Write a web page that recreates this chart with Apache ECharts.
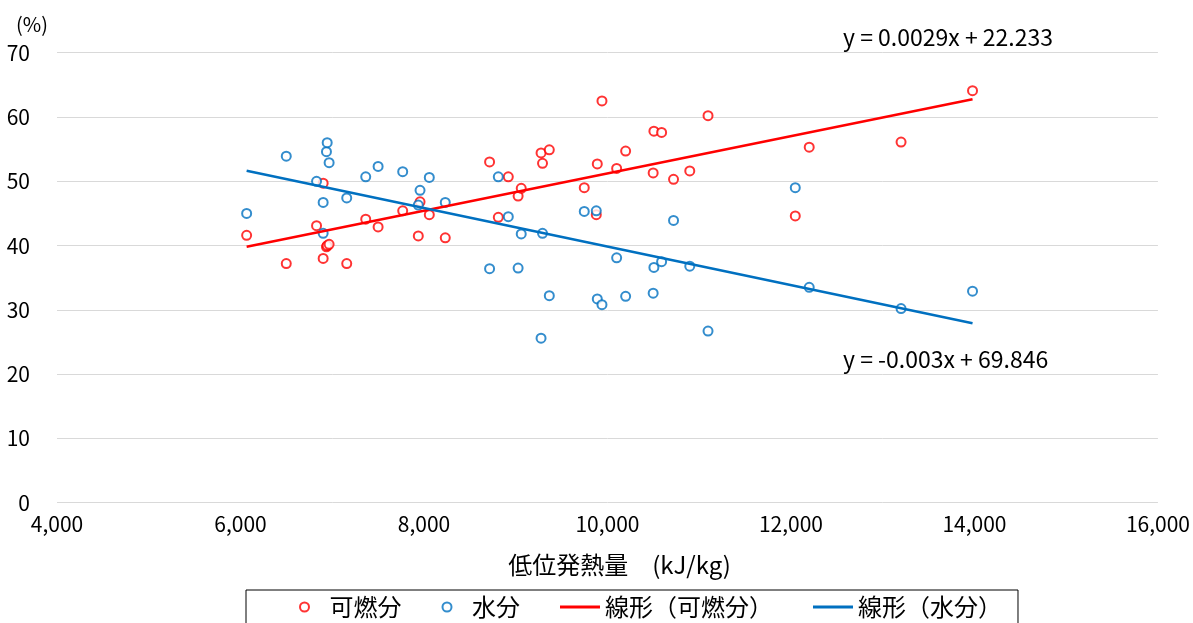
<!DOCTYPE html>
<html lang="ja">
<head>
<meta charset="utf-8">
<title>低位発熱量と可燃分・水分</title>
<script src="https://cdn.jsdelivr.net/npm/echarts@6/dist/echarts.min.js"></script>
<style>
  html, body { margin: 0; padding: 0; background: #fff; }
  #chart { width: 1193px; height: 623px; }
</style>
</head>
<body>
<div id="chart"></div>
<script>
// Lower heating value of each sample (kJ/kg)
const heatValues = [
  6067, 6499, 6829, 6901, 6901, 6937, 6945, 6966, 7158, 7365,
  7500, 7768, 7938, 7957, 8058, 8232, 8715, 8810, 8919, 9026,
  9060, 9276, 9292, 9366, 9747, 9878, 9889, 9940, 10100, 10198,
  10498, 10506, 10590, 10720, 10897, 11096, 12047, 12199, 13200, 13979
];
// Combustible fraction (%)
const combustible = [
  41.6, 37.2, 43.1, 49.7, 38.0, 39.8, 40.0, 40.2, 37.2, 44.1,
  42.9, 45.4, 41.5, 46.8, 44.8, 41.2, 53.0, 44.4, 50.7, 47.7,
  48.9, 54.4, 52.8, 54.9, 49.0, 44.8, 52.7, 62.5, 52.0, 54.7,
  51.3, 57.8, 57.6, 50.3, 51.6, 60.2, 44.6, 55.3, 56.1, 64.1
];
// Moisture fraction (%)
const moisture = [
  45.0, 53.9, 50.0, 41.9, 46.7, 54.6, 56.0, 52.9, 47.4, 50.7,
  52.3, 51.5, 46.3, 48.6, 50.6, 46.7, 36.4, 50.7, 44.5, 36.5,
  41.8, 25.6, 41.9, 32.2, 45.3, 45.4, 31.7, 30.8, 38.1, 32.1,
  32.6, 36.6, 37.5, 43.9, 36.8, 26.7, 49.0, 33.5, 30.2, 32.9
];
// Linear trend coefficients [slope, intercept]
const combustibleTrend = [0.0029, 22.233];
const moistureTrend = [-0.003, 69.846];
const combustibleEquation = 'y = 0.0029x + 22.233';
const moistureEquation = 'y = -0.003x + 69.846';

const seriesNames = ['可燃分', '水分', '線形（可燃分）', '線形（水分）'];
const xAxisTitle = '低位発熱量　(kJ/kg)';
const yAxisTitle = '(%)';

const RED = '#FF0000';
const BLUE = '#0070C0';
const FONT = '"Noto Sans CJK JP", "Noto Sans", sans-serif';
const LINE_ICON = 'path://M0,0 L40,0 L40,3 L0,3 Z';

const xMin = Math.min(...heatValues);
const xMax = Math.max(...heatValues);
const trendPoints = (c) => [[xMin, c[0] * xMin + c[1]], [xMax, c[0] * xMax + c[1]]];

const chart = echarts.init(document.getElementById('chart'), null, { renderer: 'canvas' });

chart.setOption({
  backgroundColor: '#fff',
  animation: false,
  textStyle: { fontFamily: FONT, color: '#000' },
  title: {
    text: yAxisTitle,
    left: 11,
    top: 9,
    textStyle: { fontFamily: FONT, fontSize: 20, fontWeight: 'normal', color: '#000' }
  },
  grid: { left: 57, right: 33, top: 52.7, bottom: 120.3, containLabel: false },
  xAxis: {
    type: 'value',
    min: 4000,
    max: 16000,
    interval: 2000,
    name: xAxisTitle,
    nameLocation: 'middle',
    nameGap: 50,
    nameTextStyle: { fontFamily: FONT, fontSize: 24, color: '#000', padding: [0, 0, 0, 24] },
    axisLine: { show: false },
    axisTick: { show: false },
    splitLine: { show: false },
    axisLabel: {
      fontFamily: FONT, fontSize: 21, color: '#000', margin: 11,
      formatter: (v) => v.toLocaleString('en-US')
    }
  },
  yAxis: {
    type: 'value',
    min: 0,
    max: 70,
    interval: 10,
    axisLine: { show: false },
    axisTick: { show: false },
    splitLine: { lineStyle: { color: '#D9D9D9', width: 1 } },
    axisLabel: { fontFamily: FONT, fontSize: 21, color: '#000', margin: 27 }
  },
  legend: {
    data: [
      { name: seriesNames[0], icon: 'emptyCircle' },
      { name: seriesNames[1], icon: 'emptyCircle' },
      { name: seriesNames[2], icon: LINE_ICON },
      { name: seriesNames[3], icon: LINE_ICON }
    ],
    left: 246,
    top: 590,
    orient: 'horizontal',
    itemWidth: 40,
    itemHeight: 9,
    itemGap: 40,
    padding: [5, 16, 12, 53],
    borderColor: '#000',
    borderWidth: 1,
    textStyle: { fontFamily: FONT, fontSize: 24, color: '#000' }
  },
  graphic: [
    {
      type: 'text', left: 843, top: 26,
      style: { text: combustibleEquation, font: '23px ' + FONT, fill: '#000' }
    },
    {
      type: 'text', left: 843, top: 348,
      style: { text: moistureEquation, font: '23px ' + FONT, fill: '#000' }
    }
  ],
  series: [
    {
      name: seriesNames[0],
      type: 'scatter',
      symbol: 'emptyCircle',
      symbolSize: 9,
      itemStyle: { color: RED, borderColor: RED, borderWidth: 1.5 },
      data: heatValues.map((x, i) => [x, combustible[i]]),
      z: 3
    },
    {
      name: seriesNames[1],
      type: 'scatter',
      symbol: 'emptyCircle',
      symbolSize: 9,
      itemStyle: { color: BLUE, borderColor: BLUE, borderWidth: 1.5 },
      data: heatValues.map((x, i) => [x, moisture[i]]),
      z: 3
    },
    {
      name: seriesNames[2],
      type: 'line',
      showSymbol: false,
      symbol: 'none',
      lineStyle: { color: RED, width: 2.5 },
      itemStyle: { color: RED },
      data: trendPoints(combustibleTrend),
      z: 4
    },
    {
      name: seriesNames[3],
      type: 'line',
      showSymbol: false,
      symbol: 'none',
      lineStyle: { color: BLUE, width: 2.5 },
      itemStyle: { color: BLUE },
      data: trendPoints(moistureTrend),
      z: 4
    }
  ]
});
</script>
</body>
</html>
